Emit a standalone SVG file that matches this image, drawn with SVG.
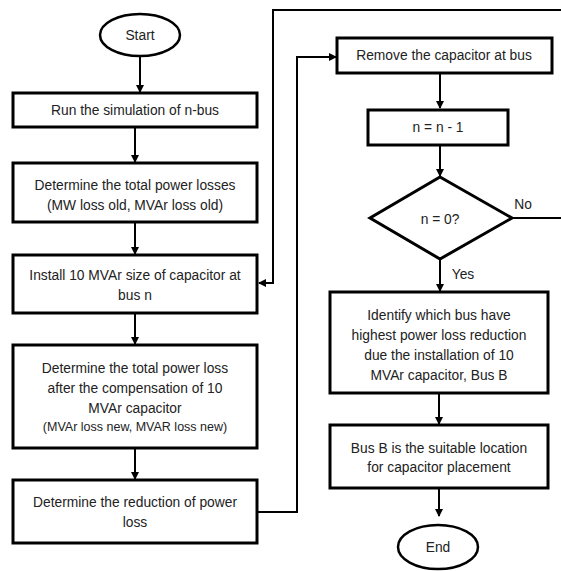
<svg xmlns="http://www.w3.org/2000/svg" width="561" height="571" viewBox="0 0 561 571">
<defs>
<marker id="ah" markerWidth="8" markerHeight="8" refX="7" refY="4" orient="auto" markerUnits="userSpaceOnUse">
<path d="M0,0 L8,4 L0,8 Z" fill="#000"/>
</marker>
</defs>
<style>
.box{fill:#fff;stroke:#000;stroke-width:3}
.term{fill:#fff;stroke:#000;stroke-width:2.5}
.ln{fill:none;stroke:#000;stroke-width:2}
text{font-family:"Liberation Sans",Arial,sans-serif;font-size:13.8px;fill:#222;text-anchor:middle}
.sm{font-size:12.5px}
</style>
<rect width="561" height="571" fill="#fff"/>
<g id="connectors">
<line class="ln" x1="140" y1="56" x2="140" y2="92" marker-end="url(#ah)"/>
<line class="ln" x1="135" y1="127" x2="135" y2="162" marker-end="url(#ah)"/>
<line class="ln" x1="135" y1="222" x2="135" y2="254" marker-end="url(#ah)"/>
<line class="ln" x1="135" y1="313" x2="135" y2="344" marker-end="url(#ah)"/>
<line class="ln" x1="135" y1="448" x2="135" y2="479" marker-end="url(#ah)"/>
<polyline class="ln" points="257,512 297,512 297,57 336,57" marker-end="url(#ah)"/>
<line class="ln" x1="440" y1="73" x2="440" y2="108" marker-end="url(#ah)"/>
<line class="ln" x1="440" y1="145" x2="440" y2="176" marker-end="url(#ah)"/>
<polyline class="ln" points="512,218 563,218"/>
<polyline class="ln" points="563,10 273,10 273,283 259,283" marker-end="url(#ah)"/>
<line class="ln" x1="440" y1="259" x2="440" y2="291" marker-end="url(#ah)"/>
<line class="ln" x1="439" y1="393" x2="439" y2="424" marker-end="url(#ah)"/>
<line class="ln" x1="439" y1="488" x2="439" y2="516" marker-end="url(#ah)"/>
<text x="523" y="209">No</text>
<text x="463" y="279">Yes</text>
</g>
<g id="start">
<ellipse class="term" cx="140" cy="35" rx="40" ry="21"/>
<text x="140" y="40">Start</text>
</g>
<g id="run">
<rect class="box" x="13" y="93" width="244" height="34"/>
<text x="135" y="115">Run the simulation of n-bus</text>
</g>
<g id="losses-old">
<rect class="box" x="13" y="163" width="244" height="59"/>
<text x="135" y="190">Determine the total power losses</text>
<text x="135" y="210">(MW loss old, MVAr loss old)</text>
</g>
<g id="install">
<rect class="box" x="13" y="255" width="244" height="58"/>
<text x="135" y="280">Install 10 MVAr size of capacitor at</text>
<text x="135" y="300">bus n</text>
</g>
<g id="losses-new">
<rect class="box" x="13" y="345" width="244" height="103"/>
<text x="135" y="373">Determine the total power loss</text>
<text x="135" y="393">after the compensation of 10</text>
<text x="135" y="413">MVAr capacitor</text>
<text class="sm" x="135" y="431">(MVAr loss new, MVAR loss new)</text>
</g>
<g id="reduction">
<rect class="box" x="13" y="480" width="244" height="63"/>
<text x="135" y="507">Determine the reduction of power</text>
<text x="135" y="527">loss</text>
</g>
<g id="remove">
<rect class="box" x="337" y="38" width="215" height="35"/>
<text x="444" y="60">Remove the capacitor at bus</text>
</g>
<g id="decrement">
<rect class="box" x="368" y="110" width="140" height="35"/>
<text x="438" y="132">n = n - 1</text>
</g>
<g id="decision">
<polygon class="box" points="440,177 512,218 440,259 370,218"/>
<text x="440" y="224">n = 0?</text>
</g>
<g id="identify">
<rect class="box" x="330" y="292" width="218" height="101"/>
<text x="439" y="320">Identify which bus have</text>
<text x="439" y="340">highest power loss reduction</text>
<text x="439" y="360">due the installation of 10</text>
<text x="439" y="380">MVAr capacitor, Bus B</text>
</g>
<g id="result">
<rect class="box" x="330" y="425" width="218" height="63"/>
<text x="439" y="453">Bus B is the suitable location</text>
<text x="439" y="472">for capacitor placement</text>
</g>
<g id="end">
<ellipse class="term" cx="438" cy="547" rx="40" ry="22"/>
<text x="438" y="552">End</text>
</g>
</svg>
